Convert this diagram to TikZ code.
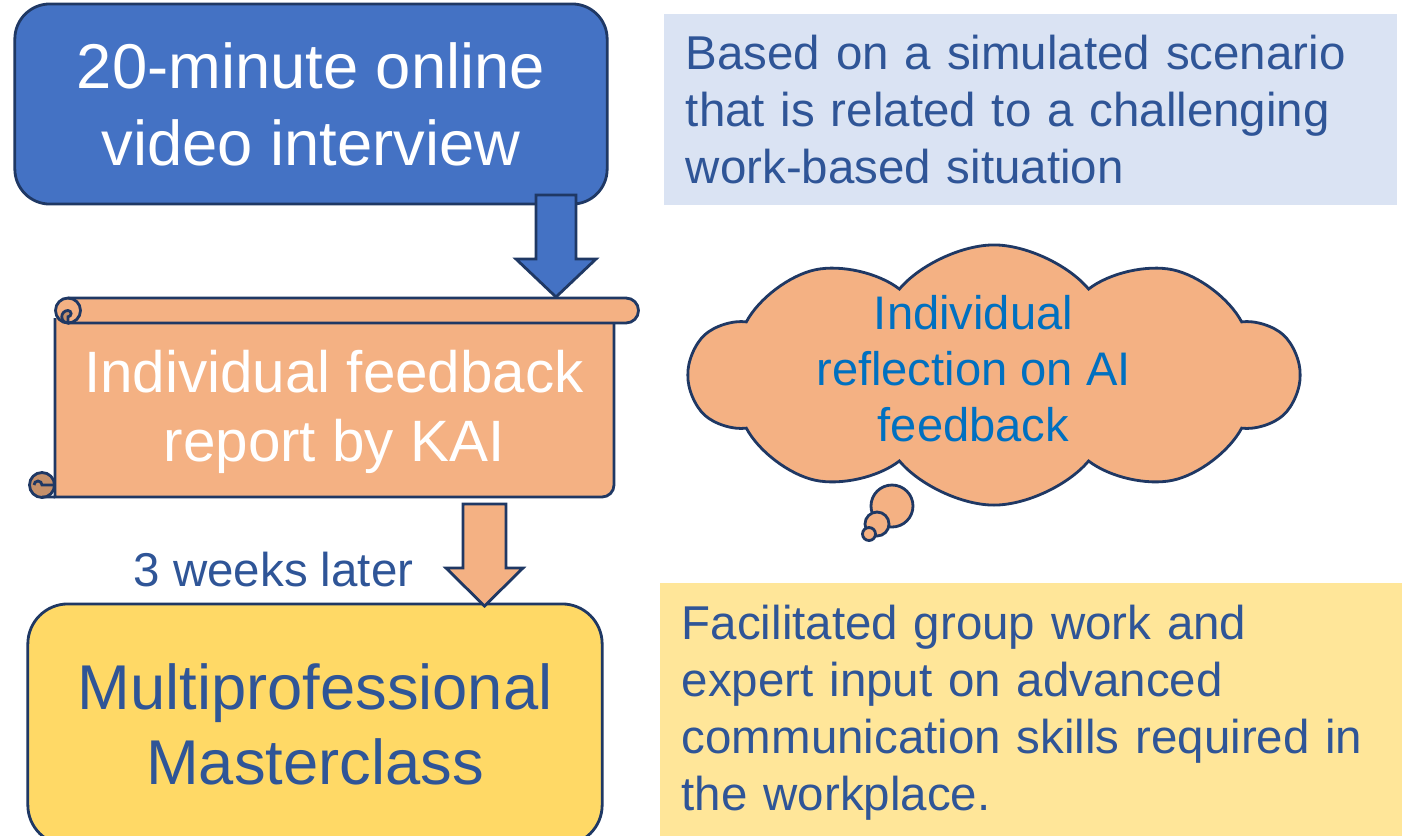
\documentclass[tikz,border=0pt]{standalone}
\usepackage{fontspec}
\setmainfont{Liberation Sans}
\usetikzlibrary{shapes.symbols}
\definecolor{blue_fill}{RGB}{68,114,196}
\definecolor{navy}{RGB}{31,56,100}
\definecolor{peach}{RGB}{244,177,131}
\definecolor{peach_dark}{RGB}{197,144,106}
\definecolor{gold}{RGB}{255,217,102}
\definecolor{light_gold}{RGB}{255,230,153}
\definecolor{light_blue}{RGB}{218,227,243}
\definecolor{text_blue}{RGB}{47,85,151}
\definecolor{cloud_blue}{RGB}{0,112,192}

\begin{document}
\begin{tikzpicture}[x=0.01cm,y=-0.01cm,
	line/.style={draw=navy,line width=0.8pt},
	note/.style={inner sep=0pt,inner xsep=0.22cm,align=left,text=text_blue}]
	\clip (0,0) rectangle (1402,835);
	
	\node[line,fill=blue_fill,rounded corners=0.35cm,minimum width=5.92cm,minimum height=2cm,align=center,text=white,font=\fontsize{18}{21.9}\selectfont] (interview) at (311,104) {20-minute online\\video interview};
	\node[note,fill=light_blue,minimum width=7.33cm,minimum height=1.91cm,text width=6.89cm,font=\fontsize{13.5}{16.2}\selectfont] (scenario) at (1030.5,109.5) {Based on a simulated scenario\\that is related to a challenging\\work-based situation};
	
	% scroll
	\draw[line,fill=peach] (55,318) -- (55,497) -- (602,497) arc[start angle=90,end angle=0,radius=12] -- (614,318);
	\draw[line,fill=peach] (68,298) -- (626,298) arc[start angle=-90,end angle=90,radius=12.5] -- (68,323) arc[start angle=90,end angle=270,radius=12.5];
	\draw[line,fill=peach_dark] (68,323) arc[start angle=90,end angle=270,radius=6.25] arc[start angle=-90,end angle=90,radius=3.1] -- cycle;
	\draw[line] (68,298) arc[start angle=-90,end angle=90,radius=12.5];
	\draw[line,fill=peach_dark] (42,485) circle (12.5);
	\draw[line] (42,497) -- (55,497) (55,485) -- (42,485) arc[start angle=0,end angle=-180,radius=4];
	\node[text=white,align=center,inner sep=0pt,font=\fontsize{16.6}{19.6}\selectfont] (report) at (334,412) {Individual feedback\\report by KAI};
	
	% thought cloud
	\node[cloud,cloud puffs=10,cloud puff arc=100,cloud ignores aspect,line,fill=peach,inner sep=0pt,minimum width=6.08cm,minimum height=2.6cm] (thought) at (994,375) {};
	\draw[line,fill=peach] (892,506) circle (21);
	\draw[line,fill=peach] (877,524) circle (12);
	\draw[line,fill=peach] (869,534) circle (6.5);
	\node[align=center,inner sep=0pt,text=cloud_blue,font=\fontsize{13.4}{15.9}\selectfont] (reflection) at (973.5,369) {Individual\\reflection on AI\\feedback};
	
	\node[line,fill=gold,rounded corners=0.4cm,minimum width=5.74cm,minimum height=2.41cm,align=center,text=text_blue,font=\fontsize{18}{21.3}\selectfont] (masterclass) at (315,724.5) {Multiprofessional\\Masterclass};
	\node[note,fill=light_gold,minimum width=7.42cm,minimum height=2.59cm,text width=6.98cm,font=\fontsize{13.5}{16.2}\selectfont] (groupwork) at (1031,712.5) {Facilitated group work and\\expert input on advanced\\communication skills required in\\the workplace.};
	
	\node[anchor=base west,inner sep=0pt,text=text_blue,font=\fontsize{13.5}{16}\selectfont] (delay) at (133,586) {3 weeks later};
	
	\foreach \ax/\atop/\atip/\sh/\hd/\col in {556/195/297/20/40/blue_fill,484.5/504/606/21.5/38.5/peach}
		\draw[line,fill=\col] (\ax-\sh,\atop) -- (\ax+\sh,\atop) -- (\ax+\sh,\atip-38) -- (\ax+\hd,\atip-38) -- (\ax,\atip) -- (\ax-\hd,\atip-38) -- (\ax-\sh,\atip-38) -- cycle;
\end{tikzpicture}
\end{document}
